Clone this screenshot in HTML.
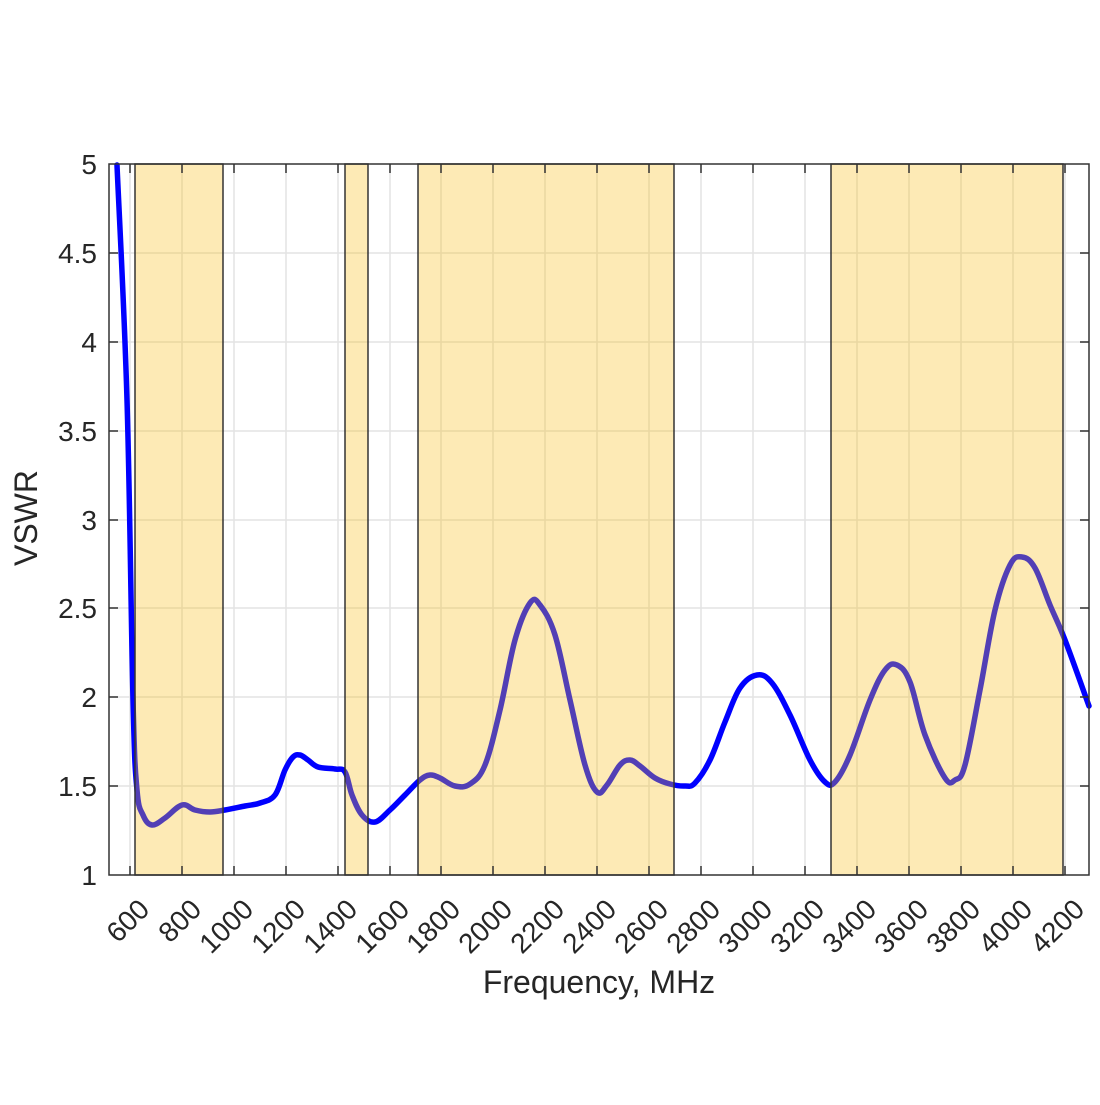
<!DOCTYPE html>
<html><head><meta charset="utf-8"><style>body{margin:0;background:#fff}</style></head>
<body>
<svg width="1100" height="1100" viewBox="0 0 1100 1100" xmlns="http://www.w3.org/2000/svg" font-family="Liberation Sans, sans-serif">
<rect width="1100" height="1100" fill="#fff"/>
<g stroke="#e3e3e3" stroke-width="1.5">
<line x1="130" y1="164" x2="130" y2="875"/><line x1="182" y1="164" x2="182" y2="875"/><line x1="234" y1="164" x2="234" y2="875"/><line x1="286" y1="164" x2="286" y2="875"/><line x1="338" y1="164" x2="338" y2="875"/><line x1="390" y1="164" x2="390" y2="875"/><line x1="441" y1="164" x2="441" y2="875"/><line x1="493" y1="164" x2="493" y2="875"/><line x1="545" y1="164" x2="545" y2="875"/><line x1="597" y1="164" x2="597" y2="875"/><line x1="649" y1="164" x2="649" y2="875"/><line x1="701" y1="164" x2="701" y2="875"/><line x1="753" y1="164" x2="753" y2="875"/><line x1="805" y1="164" x2="805" y2="875"/><line x1="857" y1="164" x2="857" y2="875"/><line x1="909" y1="164" x2="909" y2="875"/><line x1="961" y1="164" x2="961" y2="875"/><line x1="1013" y1="164" x2="1013" y2="875"/><line x1="1065" y1="164" x2="1065" y2="875"/>
<line x1="109" y1="253" x2="1089" y2="253"/><line x1="109" y1="342" x2="1089" y2="342"/><line x1="109" y1="431" x2="1089" y2="431"/><line x1="109" y1="520" x2="1089" y2="520"/><line x1="109" y1="608" x2="1089" y2="608"/><line x1="109" y1="697" x2="1089" y2="697"/><line x1="109" y1="786" x2="1089" y2="786"/>
</g>
<path id="curve" fill="none" stroke="#0000ff" stroke-width="5.5" stroke-linejoin="round" stroke-linecap="round" d=""/>
<g fill="rgb(250,190,30)" fill-opacity="0.33" stroke="#333" stroke-width="1.5">
<rect x="135" y="164" width="88" height="711"/>
<rect x="345" y="164" width="23" height="711"/>
<rect x="418" y="164" width="256" height="711"/>
<rect x="831" y="164" width="232" height="711"/>
</g>
<rect x="109" y="164" width="980" height="711" fill="none" stroke="#333" stroke-width="1.5"/>
<g stroke="#333" stroke-width="1.5">
<line x1="130" y1="875" x2="130" y2="866"/><line x1="182" y1="875" x2="182" y2="866"/><line x1="234" y1="875" x2="234" y2="866"/><line x1="286" y1="875" x2="286" y2="866"/><line x1="338" y1="875" x2="338" y2="866"/><line x1="390" y1="875" x2="390" y2="866"/><line x1="441" y1="875" x2="441" y2="866"/><line x1="493" y1="875" x2="493" y2="866"/><line x1="545" y1="875" x2="545" y2="866"/><line x1="597" y1="875" x2="597" y2="866"/><line x1="649" y1="875" x2="649" y2="866"/><line x1="701" y1="875" x2="701" y2="866"/><line x1="753" y1="875" x2="753" y2="866"/><line x1="805" y1="875" x2="805" y2="866"/><line x1="857" y1="875" x2="857" y2="866"/><line x1="909" y1="875" x2="909" y2="866"/><line x1="961" y1="875" x2="961" y2="866"/><line x1="1013" y1="875" x2="1013" y2="866"/><line x1="1065" y1="875" x2="1065" y2="866"/>
<line x1="130" y1="164" x2="130" y2="173"/><line x1="182" y1="164" x2="182" y2="173"/><line x1="234" y1="164" x2="234" y2="173"/><line x1="286" y1="164" x2="286" y2="173"/><line x1="338" y1="164" x2="338" y2="173"/><line x1="390" y1="164" x2="390" y2="173"/><line x1="441" y1="164" x2="441" y2="173"/><line x1="493" y1="164" x2="493" y2="173"/><line x1="545" y1="164" x2="545" y2="173"/><line x1="597" y1="164" x2="597" y2="173"/><line x1="649" y1="164" x2="649" y2="173"/><line x1="701" y1="164" x2="701" y2="173"/><line x1="753" y1="164" x2="753" y2="173"/><line x1="805" y1="164" x2="805" y2="173"/><line x1="857" y1="164" x2="857" y2="173"/><line x1="909" y1="164" x2="909" y2="173"/><line x1="961" y1="164" x2="961" y2="173"/><line x1="1013" y1="164" x2="1013" y2="173"/><line x1="1065" y1="164" x2="1065" y2="173"/>
<line x1="109" y1="253" x2="118" y2="253"/><line x1="109" y1="342" x2="118" y2="342"/><line x1="109" y1="431" x2="118" y2="431"/><line x1="109" y1="520" x2="118" y2="520"/><line x1="109" y1="608" x2="118" y2="608"/><line x1="109" y1="697" x2="118" y2="697"/><line x1="109" y1="786" x2="118" y2="786"/>
<line x1="1089" y1="253" x2="1080" y2="253"/><line x1="1089" y1="342" x2="1080" y2="342"/><line x1="1089" y1="431" x2="1080" y2="431"/><line x1="1089" y1="520" x2="1080" y2="520"/><line x1="1089" y1="608" x2="1080" y2="608"/><line x1="1089" y1="697" x2="1080" y2="697"/><line x1="1089" y1="786" x2="1080" y2="786"/>
</g>
<g font-size="28" fill="#262626" text-anchor="end">
<text x="97" y="174">5</text><text x="97" y="263">4.5</text><text x="97" y="352">4</text><text x="97" y="441">3.5</text><text x="97" y="530">3</text><text x="97" y="618">2.5</text><text x="97" y="707">2</text><text x="97" y="796">1.5</text><text x="97" y="885">1</text>
</g>
<g font-size="28" fill="#262626" text-anchor="end">
<text transform="translate(151,911) rotate(-45)">600</text>
<text transform="translate(203,911) rotate(-45)">800</text>
<text transform="translate(255,911) rotate(-45)">1000</text>
<text transform="translate(307,911) rotate(-45)">1200</text>
<text transform="translate(359,911) rotate(-45)">1400</text>
<text transform="translate(411,911) rotate(-45)">1600</text>
<text transform="translate(462,911) rotate(-45)">1800</text>
<text transform="translate(514,911) rotate(-45)">2000</text>
<text transform="translate(566,911) rotate(-45)">2200</text>
<text transform="translate(618,911) rotate(-45)">2400</text>
<text transform="translate(670,911) rotate(-45)">2600</text>
<text transform="translate(722,911) rotate(-45)">2800</text>
<text transform="translate(774,911) rotate(-45)">3000</text>
<text transform="translate(826,911) rotate(-45)">3200</text>
<text transform="translate(878,911) rotate(-45)">3400</text>
<text transform="translate(930,911) rotate(-45)">3600</text>
<text transform="translate(982,911) rotate(-45)">3800</text>
<text transform="translate(1034,911) rotate(-45)">4000</text>
<text transform="translate(1086,911) rotate(-45)">4200</text>
</g>
<text x="599" y="993" font-size="32" fill="#262626" text-anchor="middle">Frequency, MHz</text>
<text transform="translate(37,518) rotate(-90)" font-size="32" fill="#262626" text-anchor="middle">VSWR</text>
</svg>
<script>
var p=[[117,165],[127,400],[133,700],[137,790],[143,815],[152,825],[165,818],[182,805],[195,810],[210,812],[225,810],[245,806],[260,803],[275,795],[285,770],[293,757],[300,755],[308,760],[318,767],[335,769],[345,772],[352,795],[362,815],[375,822],[390,810],[405,795],[420,780],[430,775],[440,778],[455,786],[470,784],[485,765],[500,710],[515,640],[530,603],[540,605],[555,635],[570,700],[585,765],[597,792],[607,785],[620,765],[630,760],[640,766],[655,778],[670,784],[685,786],[695,783],[710,760],[725,722],[740,688],[757,675],[772,683],[790,715],[810,760],[825,782],[835,782],[850,755],[870,700],[885,670],[897,665],[910,682],[925,735],[945,778],[955,780],[965,765],[980,690],[995,610],[1010,565],[1022,557],[1035,568],[1050,605],[1065,640],[1089,706]];
var d="M"+p[0][0]+","+p[0][1];
for(var i=0;i<p.length-1;i++){var a=p[i>0?i-1:0],b=p[i],c=p[i+1],e=p[i+2<p.length?i+2:i+1];
var t=0.18;
d+=" C"+(b[0]+(c[0]-a[0])*t)+","+(b[1]+(c[1]-a[1])*t)+" "+(c[0]-(e[0]-b[0])*t)+","+(c[1]-(e[1]-b[1])*t)+" "+c[0]+","+c[1];}
document.getElementById("curve").setAttribute("d",d);
</script>
</body></html>
